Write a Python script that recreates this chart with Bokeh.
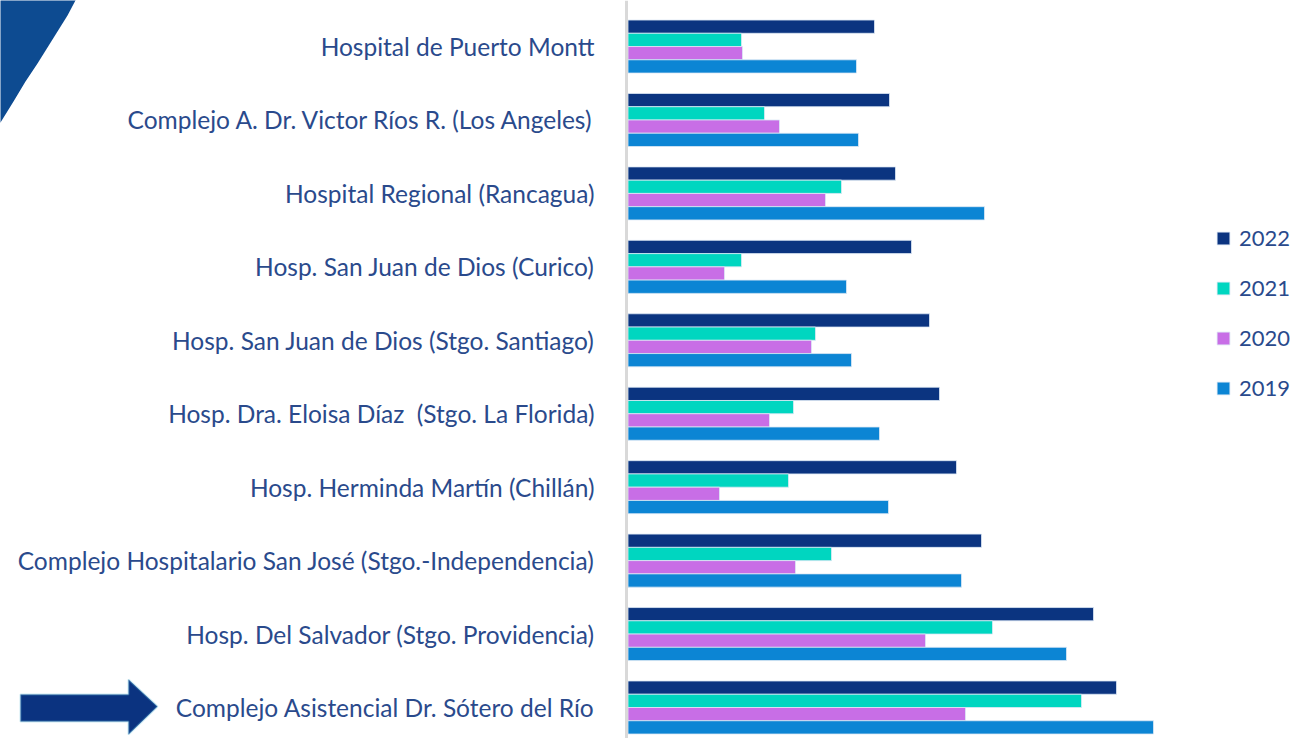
from bokeh.plotting import figure
from bokeh.models import (Range1d, ColumnDataSource, PolyAnnotation, Span,
                          Legend, LegendItem)
from bokeh.core.properties import value
from bokeh.embed import file_html
from bokeh.resources import INLINE

# ---------------- data ----------------
hospitals = [
    "Hospital de Puerto Montt",
    "Complejo A. Dr. Victor Ríos R. (Los Angeles)",
    "Hospital Regional (Rancagua)",
    "Hosp. San Juan de Dios (Curico)",
    "Hosp. San Juan de Dios (Stgo. Santiago)",
    "Hosp. Dra. Eloisa Díaz\u00a0\u00a0(Stgo. La Florida)",
    "Hosp. Herminda Martín (Chillán)",
    "Complejo Hospitalario San José (Stgo.-Independencia)",
    "Hosp. Del Salvador (Stgo. Providencia)",
    "Complejo Asistencial Dr. Sótero del Río",
]
years = ["2022", "2021", "2020", "2019"]
v2022 = [247, 262, 268, 284, 302, 312, 329, 354, 466, 489]
v2021 = [114, 137, 214, 114, 188, 166, 161, 204, 365, 454]
v2020 = [115, 152, 198, 97, 184, 142, 92, 168, 298, 338]
v2019 = [229, 231, 357, 219, 224, 252, 261, 334, 439, 526]

# ---------------- style ----------------
colors = {"2022": "#0B3480", "2021": "#00D6C0", "2020": "#C86EE6", "2019": "#0C85D4"}
label_color = "#2A4A8C"
font = "Lato"

W, H = 1295, 738
AXIS_PX = 627           # pixel position where bars start
n = len(hospitals)
ypos = [n - 1 - i for i in range(n)]
bar_h = 0.1805
offsets = {"2022": 1.5 * bar_h, "2021": 0.5 * bar_h, "2020": -0.5 * bar_h, "2019": -1.5 * bar_h}
values = {"2022": v2022, "2021": v2021, "2020": v2020, "2019": v2019}

p = figure(width=W, height=H, output_backend="svg", toolbar_location=None,
           x_range=Range1d(-AXIS_PX, W - AXIS_PX), y_range=Range1d(-0.422, 9.627),
           min_border_left=0, min_border_right=0, min_border_top=0, min_border_bottom=0)
p.outline_line_color = None
p.xgrid.visible = False
p.ygrid.visible = False
p.xaxis.visible = False
p.yaxis.visible = False
p.background_fill_color = "white"

# axis line
p.add_layout(Span(location=-1, dimension="height", line_color="#D9D9D9", line_width=3))

renderers = {}
for yr in years:
    src = ColumnDataSource(dict(y=[y + offsets[yr] for y in ypos], v=values[yr]))
    r = p.hbar(y="y", right="v", left=0.5, height=bar_h, source=src,
               fill_color=colors[yr], line_color="#DDE8F5", line_width=0.8)
    renderers[yr] = r

# category labels
lab_src = ColumnDataSource(dict(y=ypos, t=hospitals, x=[-33] * n))
p.text(x="x", y="y", text="t", source=lab_src, text_align="right", text_baseline="middle",
       text_font=value(font), text_font_size="24.5px", text_color=label_color)

legend = Legend(items=[LegendItem(label=yr, renderers=[renderers[yr]]) for yr in years],
                orientation="vertical")
legend.background_fill_alpha = 0
legend.border_line_color = None
legend.label_text_font = font
legend.label_text_font_size = "22px"
legend.label_text_color = label_color
legend.glyph_width = 16
legend.glyph_height = 16
legend.label_height = 22
legend.spacing = 23
legend.padding = 0
legend.margin = 0
legend.label_standoff = 8
legend.location = (1215, 337)
p.add_layout(legend)

# decorative corner swoosh (page pixel coordinates, converted to bottom-up screen units)
sw_px = [-2, 76, 67, 57, 47, 37, 25, 13, 0, -2]
sw_py = [-2, -2, 15, 31, 47, 63, 81, 101, 122, 122]
p.add_layout(PolyAnnotation(xs=sw_px, ys=[H - y for y in sw_py], xs_units="screen", ys_units="screen",
                            fill_color="#0D4B91", fill_alpha=1, line_color=None))

# arrow pointing at the last category
ar_px = [20, 128, 128, 157, 128, 128, 20]
ar_py = [694, 694, 679, 706, 734, 721, 721]
p.add_layout(PolyAnnotation(xs=ar_px, ys=[H - y for y in ar_py], xs_units="screen", ys_units="screen",
                            fill_color="#0B3380", fill_alpha=1, line_color="#5BB8D8", line_width=2))

open("out.html", "w").write(file_html(p, INLINE))
